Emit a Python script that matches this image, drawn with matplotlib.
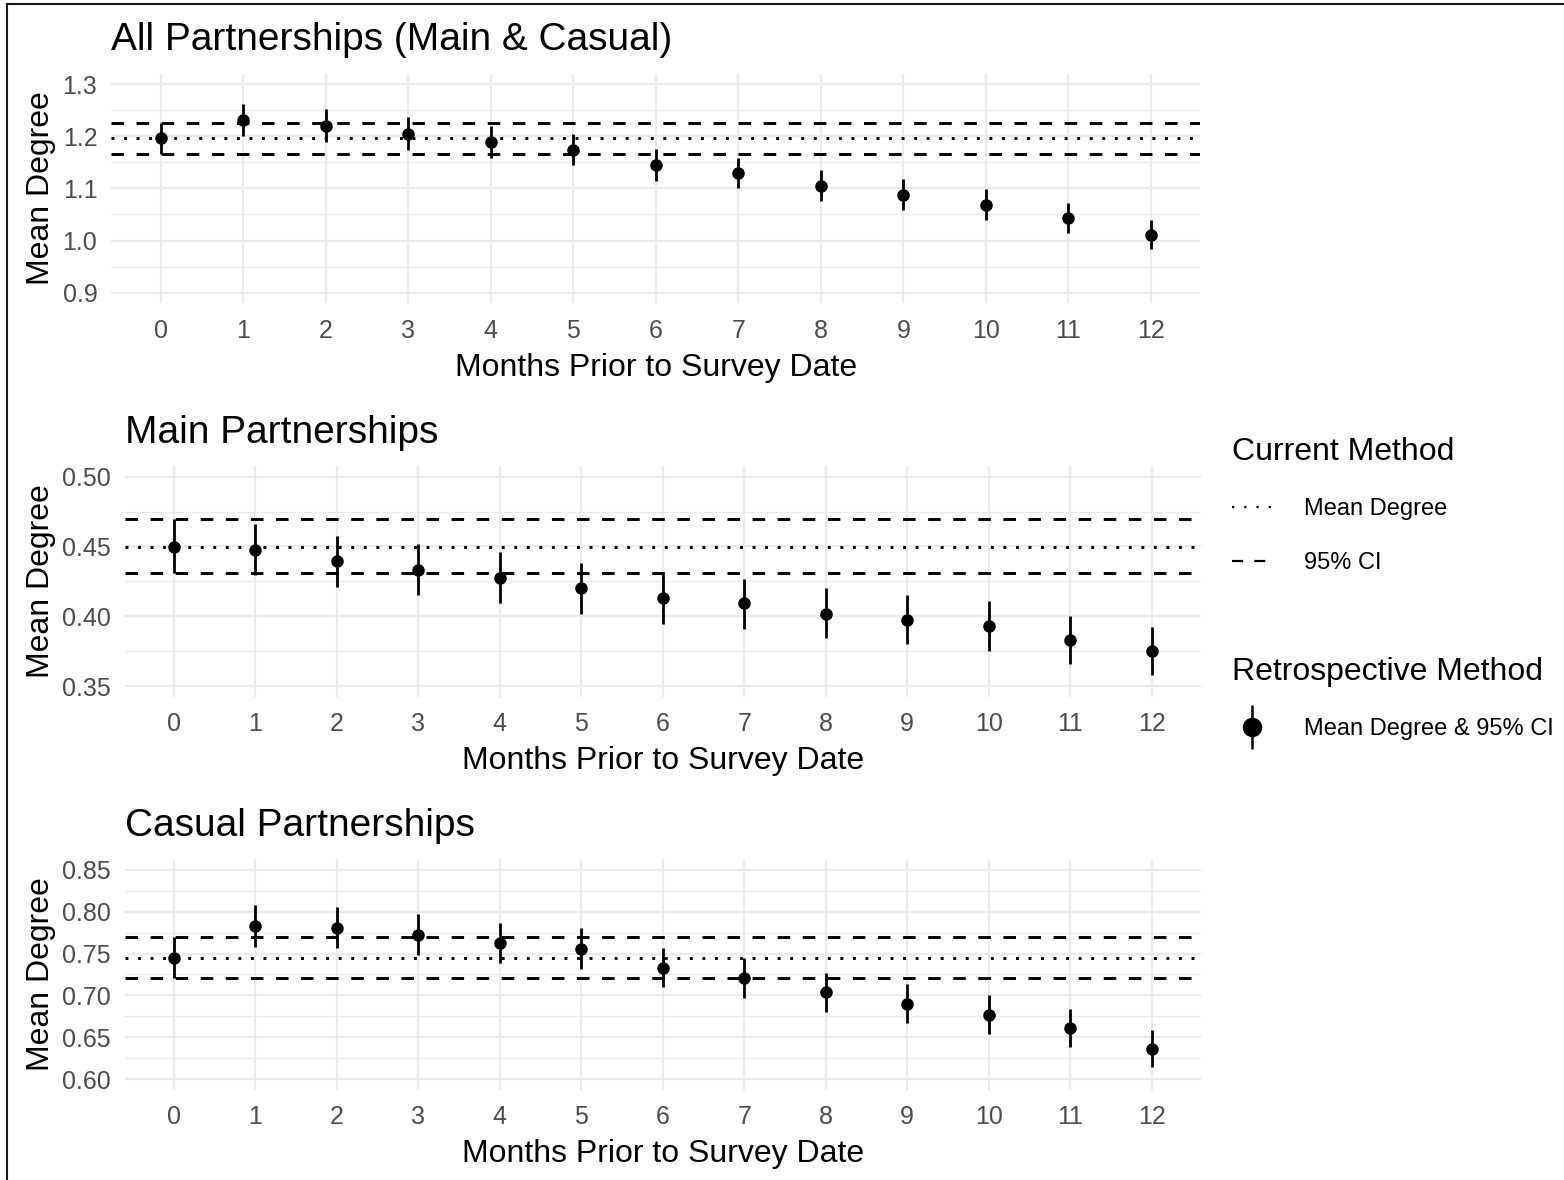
import matplotlib
matplotlib.use("Agg")
import matplotlib.pyplot as plt
from matplotlib.lines import Line2D
from matplotlib.patches import Rectangle
from matplotlib.ticker import FixedLocator, FormatStrFormatter

plt.rcParams["font.family"] = ["Liberation Sans", "DejaVu Sans"]

W, H = 1564, 1180

months = list(range(13))

# All partnerships
all_mean = [1.196, 1.231, 1.220, 1.205, 1.189, 1.174, 1.144, 1.130, 1.105, 1.087, 1.068, 1.043, 1.010]
all_lo = [1.165, 1.200, 1.189, 1.174, 1.159, 1.145, 1.115, 1.100, 1.076, 1.058, 1.040, 1.015, 0.983]
all_hi = [1.226, 1.262, 1.253, 1.237, 1.220, 1.205, 1.176, 1.159, 1.135, 1.117, 1.098, 1.072, 1.039]
all_current = (1.196, 1.165, 1.226)

# Main partnerships
main_mean = [0.4498, 0.4475, 0.4396, 0.4331, 0.4272, 0.4200, 0.4128, 0.4092, 0.4016, 0.3973, 0.3928, 0.3830, 0.3749]
main_lo = [0.4312, 0.4295, 0.4212, 0.4152, 0.4092, 0.4018, 0.3947, 0.3911, 0.3842, 0.3799, 0.3753, 0.3655, 0.3579]
main_hi = [0.4694, 0.4661, 0.4577, 0.4518, 0.4458, 0.4381, 0.4305, 0.4267, 0.4200, 0.4152, 0.4109, 0.4002, 0.3920]
main_current = (0.4498, 0.4312, 0.4694)

# Casual partnerships
casual_mean = [0.7443, 0.7830, 0.7810, 0.7726, 0.7627, 0.7551, 0.7332, 0.7212, 0.7041, 0.6901, 0.6770, 0.6614, 0.6359]
casual_lo = [0.7208, 0.7583, 0.7563, 0.7483, 0.7384, 0.7316, 0.7096, 0.6973, 0.6801, 0.6674, 0.6538, 0.6387, 0.6144]
casual_hi = [0.7699, 0.8081, 0.8057, 0.7974, 0.7866, 0.7802, 0.7571, 0.7443, 0.7268, 0.7140, 0.7001, 0.6837, 0.6590]
casual_current = (0.7443, 0.7208, 0.7699)

panels = [
    dict(title="All Partnerships (Main & Casual)", mean=all_mean, lo=all_lo, hi=all_hi,
         cur=all_current, lim=(0.9, 1.3), major=[0.9, 1.0, 1.1, 1.2, 1.3],
         minor=[0.95, 1.05, 1.15, 1.25], fmt="%.1f", box=(111.2, 73.6, 1200.4, 303.1)),
    dict(title="Main Partnerships", mean=main_mean, lo=main_lo, hi=main_hi,
         cur=main_current, lim=(0.35, 0.50), major=[0.35, 0.40, 0.45, 0.50],
         minor=[0.375, 0.425, 0.475], fmt="%.2f", box=(124.7, 466.2, 1200.7, 696.5)),
    dict(title="Casual Partnerships", mean=casual_mean, lo=casual_lo, hi=casual_hi,
         cur=casual_current, lim=(0.60, 0.85), major=[0.60, 0.65, 0.70, 0.75, 0.80, 0.85],
         minor=[0.625, 0.675, 0.725, 0.775, 0.825], fmt="%.2f", box=(124.7, 859.5, 1200.7, 1089.5)),
]

GRID = "#EBEBEB"
TICK = "#4D4D4D"

fig = plt.figure(figsize=(W / 100, H / 100), dpi=100)
fig.patch.set_facecolor("white")

for p in panels:
    x0, y0, x1, y1 = p["box"]
    ax = fig.add_axes([x0 / W, 1 - y1 / H, (x1 - x0) / W, (y1 - y0) / H])
    lo_lim, hi_lim = p["lim"]
    pad = 0.05 * (hi_lim - lo_lim)
    ax.set_ylim(lo_lim - pad, hi_lim + pad)
    ax.set_xlim(-0.6, 12.6)

    ax.set_xticks(months)
    ax.yaxis.set_major_locator(FixedLocator(p["major"]))
    ax.yaxis.set_minor_locator(FixedLocator(p["minor"]))
    ax.yaxis.set_major_formatter(FormatStrFormatter(p["fmt"]))
    ax.grid(True, which="major", color=GRID, lw=1.6)
    ax.grid(True, which="minor", axis="y", color=GRID, lw=0.9)
    ax.set_axisbelow(True)
    ax.tick_params(which="both", length=0)
    ax.tick_params(axis="y", labelsize=18, labelcolor=TICK, pad=10)
    ax.tick_params(axis="x", labelsize=18, labelcolor=TICK, pad=11.5)
    for s in ax.spines.values():
        s.set_visible(False)

    # current method: mean and 95% CI across the panel
    m, l, h = p["cur"]
    ax.axhline(m, color="black", lw=2.1, ls=(0, (1, 3.3)), dash_capstyle="butt")
    ax.axhline(l, color="black", lw=2.1, ls=(0, (4.3, 4.3)))
    ax.axhline(h, color="black", lw=2.1, ls=(0, (4.3, 4.3)))

    # retrospective method
    ax.vlines(months, p["lo"], p["hi"], color="black", lw=2)
    ax.plot(months, p["mean"], "o", color="black", ms=8, zorder=3)

    fig.text(x0 / W, 1 - (y0 - 23.5) / H, p["title"], fontsize=28, ha="left", va="baseline")
    fig.text((x0 + x1) / 2 / W, 1 - (y1 + 72.5) / H, "Months Prior to Survey Date",
             fontsize=23, ha="center", va="baseline")
    fig.text(41.5 / W, 1 - (y0 + y1) / 2 / H, "Mean Degree", fontsize=23,
             rotation=90, ha="center", va="center")

# legends
dot_h = Line2D([], [], color="black", lw=1.6, ls=(0, (1, 4.5)))
dash_h = Line2D([], [], color="black", lw=1.6, ls=(0, (5, 5)))
fig.legend([dot_h, dash_h], ["Mean Degree", "95% CI"], title="Current Method",
           loc="upper left", bbox_to_anchor=(1232 / W, 1 - 437 / H),
           frameon=False, fontsize=17, title_fontsize=23, alignment="left",
           handlelength=1.7, handletextpad=1.35, labelspacing=1.33,
           borderpad=0, borderaxespad=0)

bar_h = Line2D([], [], color="black", ls="none", marker="|", ms=31, mew=1.8)
pt_h = Line2D([], [], color="black", ls="none", marker="o", ms=13)
fig.legend([(bar_h, pt_h)], ["Mean Degree & 95% CI"], title="Retrospective Method",
           loc="upper left", bbox_to_anchor=(1232 / W, 1 - 657 / H),
           frameon=False, fontsize=17, title_fontsize=23, alignment="left",
           handlelength=1.7, handletextpad=1.35, labelspacing=1.33,
           borderpad=0, borderaxespad=0)

# border around the figure (top and left visible)
fig.patches.append(Rectangle((7 / W, -0.1), 1.2, 1.1 - 4 / H, transform=fig.transFigure,
                             fill=False, edgecolor="#1a1a1a", lw=1.5, clip_on=False))

fig.savefig("out.png", dpi=100)
plt.close(fig)
